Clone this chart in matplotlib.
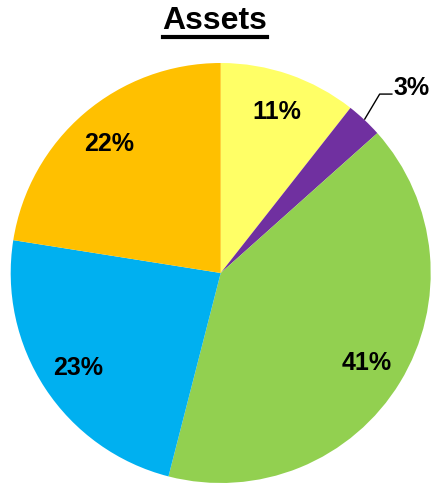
import matplotlib
matplotlib.use("Agg")
import matplotlib.pyplot as plt

categories = ["A", "B", "C", "D", "E"]
values = [10.6, 2.8, 40.6, 23.5, 22.5]
pct_labels = ["11%", "3%", "41%", "23%", "22%"]
colors = ["#FFFF66", "#7030A0", "#92D050", "#00B0F0", "#FFC000"]

plt.rcParams['font.family'] = ['Liberation Sans', 'DejaVu Sans']

fig = plt.figure(figsize=(4.34, 4.85), dpi=100)
ax = fig.add_axes([10.7/434, 1/485, 420/434, 420/485])
wedges, texts = ax.pie(
    values, colors=colors, startangle=90, counterclock=False,
    radius=1.0, wedgeprops=dict(linewidth=0))
ax.set_xlim(-1, 1)
ax.set_ylim(-1, 1)
ax.set_aspect("equal")

import numpy as np
total = sum(values)
cum = 0.0
for i, (v, lab) in enumerate(zip(values, pct_labels)):
    mid = 90 - 360 * (cum + v / 2) / total
    cum += v
    if i == 1:
        continue
    r = 0.815
    ax.text(r * np.cos(np.radians(mid)), r * np.sin(np.radians(mid)), lab,
            fontsize=18, fontweight="bold", ha="center", va="center")

# small slice label outside with leader line
ax.plot([0.686, 0.757, 0.815], [0.733, 0.852, 0.852], color="black", lw=1)
ax.text(0.91, 0.885, pct_labels[1], fontsize=18, fontweight="bold",
        ha="center", va="center")

fig.text(215/434, 1 - 21/485, "Assets", fontsize=23, fontweight="bold",
         ha="center", va="center")
fig.add_artist(plt.Line2D([163/434, 267/434], [1 - 37.5/485, 1 - 37.5/485],
                          color="black", lw=3))

fig.savefig("out.png", dpi=100)
